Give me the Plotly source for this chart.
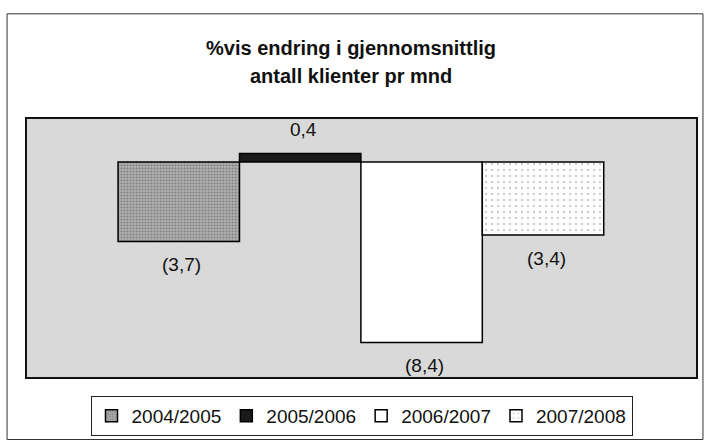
import plotly.graph_objects as go

# Data
periods = ["2004/2005", "2005/2006", "2006/2007", "2007/2008"]
change_pct = [-3.7, 0.4, -8.4, -3.4]

title_line1 = "%vis endring i gjennomsnittlig"
title_line2 = "antall klienter pr mnd"

# Styles (kept separate from data)
fills = ["#a4a4a4", "#1a1a1a", "#ffffff", "#f3f3f3"]
patterns = [
    dict(shape=".", fgcolor="#4a4a4a", bgcolor="#b0b0b0", size=3, solidity=0.35),
    dict(shape="", fgcolor="#000000", bgcolor="#1a1a1a"),
    dict(shape="", fgcolor="#ffffff", bgcolor="#ffffff"),
    dict(shape=".", fgcolor="#9a9a9a", bgcolor="#ffffff", size=6, solidity=0.12),
]

FONT = "Liberation Sans, Arial, sans-serif"


def fmt(v):
    s = f"{abs(v):.1f}".replace(".", ",")
    return f"({s})" if v < 0 else s


fig = go.Figure()
for i, (p, v) in enumerate(zip(periods, change_pct)):
    fig.add_trace(go.Bar(
        x=[i], y=[v], name=p, width=1,
        marker=dict(color=fills[i], pattern=patterns[i],
                    line=dict(color="#000000", width=1.5)),
        hoverinfo="skip",
    ))
    fig.add_annotation(
        x=i, y=v, xref="x", yref="y", text=fmt(v), showarrow=False,
        yanchor="middle", yshift=(24 if v >= 0 else -23), xshift=3,
        font=dict(family=FONT, size=19, color="#111111"),
    )

# Title as two centred lines
fig.add_annotation(x=0.485, y=1.277, xref="paper", yref="paper", text=title_line1,
                   showarrow=False, yanchor="middle",
                   font=dict(family=FONT, size=20, color="#111111", weight="bold"))
fig.add_annotation(x=0.485, y=1.165, xref="paper", yref="paper", text=title_line2,
                   showarrow=False, yanchor="middle",
                   font=dict(family=FONT, size=20, color="#111111", weight="bold"))

# Outer chart border
fig.add_shape(type="rect", xref="paper", yref="paper",
              x0=-0.0298, x1=1.0104, y0=-0.2423, y1=1.4077,
              line=dict(color="#333333", width=1), fillcolor="rgba(0,0,0,0)",
              layer="below")

fig.update_layout(
    width=706, height=444,
    margin=dict(l=27, r=8, t=119, b=65),
    paper_bgcolor="#ffffff",
    plot_bgcolor="#d9d9d9",
    barmode="overlay",
    showlegend=True,
    legend=dict(
        orientation="h", x=0.5, xanchor="center", y=-0.073, yanchor="top",
        bgcolor="#ffffff", bordercolor="#222222", borderwidth=1,
        font=dict(family=FONT, size=19, color="#111111"),
        itemwidth=30, tracegroupgap=0,
    ),
    xaxis=dict(range=[-1.25, 4.26], visible=True, showticklabels=False,
               showgrid=False, zeroline=False, ticks="",
               showline=True, mirror=True, linecolor="#111111", linewidth=1.5),
    yaxis=dict(range=[-10, 2], showticklabels=False, showgrid=False,
               zeroline=False, ticks="",
               showline=True, mirror=True, linecolor="#111111", linewidth=1.5),
)

fig.write_html("out.html", config={"displayModeBar": False},
               post_script="document.body.style.margin='0';")
